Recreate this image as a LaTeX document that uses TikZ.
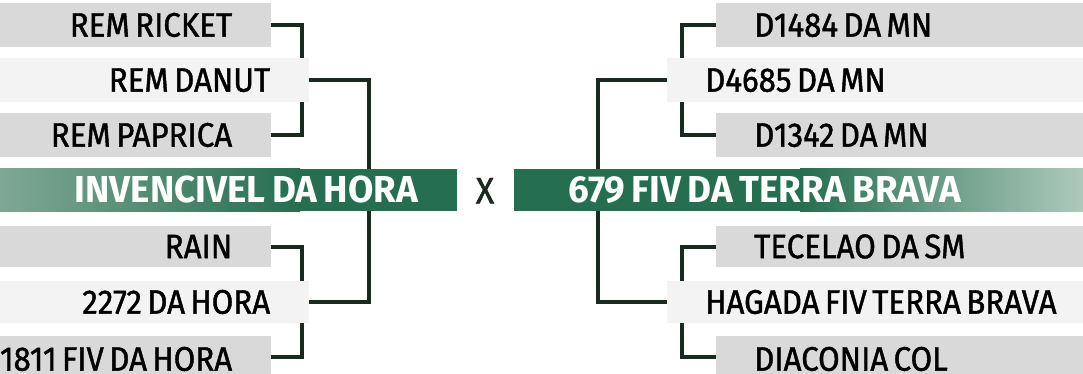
\documentclass[tikz,border=0pt]{standalone}
\usepackage{fontspec}
\setmainfont{Fira Sans}[FakeStretch=0.92,FakeBold=1.2,WordSpace=0.65]
\newfontfamily\barfont{Fira Sans Bold}[FakeStretch=0.98,WordSpace=0.75]
\definecolor{boxA}{HTML}{D9D9D9}
\definecolor{boxB}{HTML}{F3F3F3}
\definecolor{gdark}{HTML}{266E50}
\definecolor{gleftl}{HTML}{7FA894}
\definecolor{grightl}{HTML}{ADCABC}
\definecolor{linec}{HTML}{1B2A1E}
\newcommand\rtext[2]{\makebox[#1][r]{#2\hspace*{39pt}}}
\newcommand\ltext[2]{\makebox[#1][l]{\hspace*{38pt}#2}}
\tikzset{
  namebox/.style={anchor=north west, inner sep=0pt, text height=23pt, text depth=0pt,
     font=\fontsize{34}{34}\selectfont, text=black},
  lowbox/.style={namebox, minimum height=38pt, text height=31pt},
  conn/.style={draw=linec, line width=4pt, line join=miter},
  barlabel/.style={anchor=north west, inner sep=0pt, text height=25pt, text depth=0pt,
     font=\barfont\fontsize{37.5}{37.5}\selectfont, text=white},
}
\begin{document}
\begin{tikzpicture}[x=1pt,y=-1pt]
\useasboundingbox (0,0) rectangle (1083,374);
% ---- left side
\node[namebox, fill=boxA, minimum height=44pt] (b1) at (0,3) {\rtext{271pt}{REM RICKET}};
\node[namebox, fill=boxB, minimum height=44pt] (b2) at (0,58) {\rtext{309pt}{REM DANUT}};
\node[namebox, fill=boxA, minimum height=44pt] (b3) at (0,113) {\rtext{271pt}{REM PAPRICA}};
\node[namebox, fill=boxA, minimum height=41pt] (b4) at (0,226) {\rtext{271pt}{RAIN}};
\node[namebox, fill=boxB, minimum height=42pt] (b5) at (0,281) {\rtext{309pt}{2272 DA HORA}};
\node[lowbox, fill=boxA] (b6) at (0,336) {\rtext{271pt}{1811 FIV DA HORA}};
% left bar
\fill[gdark] (0,169) rectangle (457,211);
\shade[left color=gleftl, right color=gdark] (0,169) rectangle (300,211);
\node[barlabel, minimum height=42pt] (g1) at (0,169) {\rtext{457pt}{INVENCIVEL DA HORA}};
% X
\node[inner sep=0pt, text height=25pt, text depth=0pt, font=\fontsize{37}{37}\selectfont, text=linec] (vs) at (485,191) {X};
% ---- right side
\fill[gdark] (514,169) rectangle (1083,211);
\shade[left color=gdark, right color=grightl] (800,169) rectangle (1083,211);
\node[barlabel, minimum height=42pt] (g2) at (514,169) {\makebox[569pt][l]{\hspace*{54pt}679 FIV DA TERRA BRAVA}};
\node[namebox, fill=boxA, minimum height=44pt] (r1) at (716,3) {\ltext{367pt}{D1484 DA MN}};
\node[namebox, fill=boxB, minimum height=44pt] (r2) at (667,58) {\ltext{416pt}{D4685 DA MN}};
\node[namebox, fill=boxA, minimum height=44pt] (r3) at (716,113) {\ltext{367pt}{D1342 DA MN}};
\node[namebox, fill=boxA, minimum height=41pt] (r4) at (716,226) {\ltext{367pt}{TECELAO DA SM}};
\node[namebox, fill=boxB, minimum height=42pt] (r5) at (667,281) {\ltext{416pt}{HAGADA FIV TERRA BRAVA}};
\node[lowbox, fill=boxA] (r6) at (716,336) {\ltext{367pt}{DIACONIA COL}};
% ---- connectors left
\coordinate (la) at (302,0);
\coordinate (lb) at (369,0);
\coordinate (lowy) at (0,357);
\draw[conn] (b1.east) -| (b2.north -| la);
\draw[conn] (b3.east) -| (b2.south -| la);
\draw[conn] (b2.east) -| (g1.north -| lb);
\draw[conn] (g1.south -| lb) |- (b5.east);
\draw[conn] (b4.east) -| (b5.north -| la);
\draw[conn] (b5.south -| la) |- (b6.east |- lowy);
% ---- connectors right
\coordinate (ra) at (682,0);
\coordinate (rb) at (598,0);
\draw[conn] (r1.west) -| (r2.north -| ra);
\draw[conn] (r3.west) -| (r2.south -| ra);
\draw[conn] (r2.west) -| (g2.north -| rb);
\draw[conn] (g2.south -| rb) |- (r5.west);
\draw[conn] (r4.west) -| (r5.north -| ra);
\draw[conn] (r5.south -| ra) |- (r6.west |- lowy);
\end{tikzpicture}
\end{document}
